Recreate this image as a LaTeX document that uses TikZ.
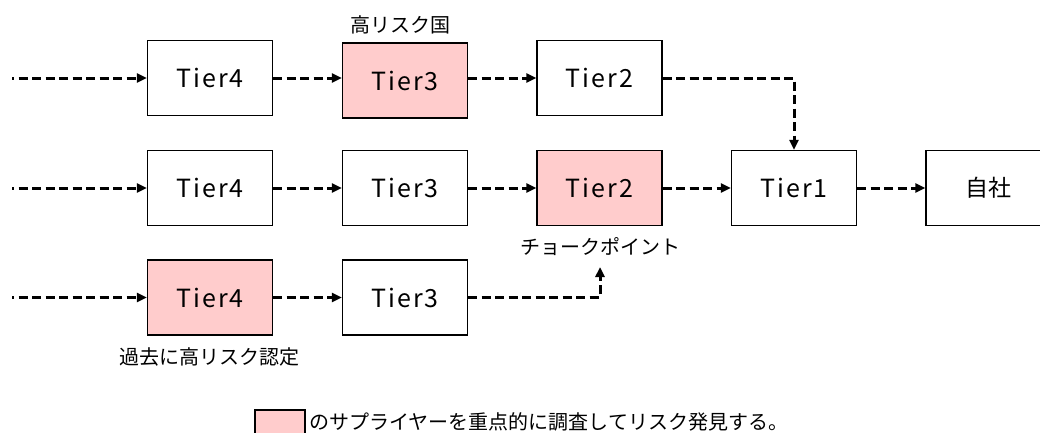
\documentclass[tikz,border=0pt]{standalone}
\usepackage{fontspec}
\setmainfont{Noto Sans CJK JP}
\newfontfamily\tierfont[LetterSpace=8]{Noto Sans CJK JP}
\usetikzlibrary{arrows.meta}
\definecolor{riskpink}{HTML}{FFCCCC}
\tikzset{
  tierbox/.style={draw=black, line width=1.3pt, fill=white, minimum width=125pt, minimum height=75pt, inner sep=0pt,
    font=\tierfont\fontsize{25}{25}\selectfont},
  riskbox/.style={tierbox, fill=riskpink},
  flow/.style={line width=3pt, dash pattern=on 9pt off 4.5pt, -{Triangle[length=10pt,width=9pt]}},
  jlabel/.style={font=\fontsize{20}{20}\selectfont, inner sep=0pt}
}
\begin{document}
\begin{tikzpicture}[x=1pt,y=-1pt]
\useasboundingbox (0,0) rectangle (1040,432);
% row 1
\node[tierbox] (A4) at (210,78) {Tier4};
\node[riskbox] (A3) at (405,80.5) {Tier3};
\node[tierbox] (A2) at (599.5,78) {Tier2};
% row 2
\node[tierbox] (B4) at (210,188) {Tier4};
\node[tierbox] (B3) at (405,188) {Tier3};
\node[riskbox] (B2) at (599.5,188) {Tier2};
\node[tierbox] (B1) at (794,188) {Tier1};
\node[tierbox, font=\fontsize{23}{23}\selectfont] (S) at (988.5,188) {自社};
% row 3
\node[riskbox] (C4) at (210,297.5) {Tier4};
\node[tierbox] (C3) at (405,297.5) {Tier3};
% labels
\node[jlabel] (hr) at (400,25) {高リスク国};
\node[jlabel] (cp) at (600,247) {チョークポイント};
\node[jlabel] (past) at (209,357) {過去に高リスク認定};
% incoming
\coordinate (in1) at (12,78);
\coordinate (in2) at (12,188);
\coordinate (in3) at (12,297.5);
\coordinate (cpin) at (600,267);
\draw[flow, dash phase=7pt] (in1) -- (A4.west);
\draw[flow, dash phase=7pt] (in2) -- (B4.west);
\draw[flow, dash phase=7pt] (in3) -- (C4.west);
% row 1 flows
\draw[flow] (A4.east) -- (A4.east -| A3.west);
\draw[flow] (A4.east -| A3.east) -- (A2.west);
\draw[flow] (A2.east) -| (B1.north);
% row 2 flows
\draw[flow] (B4.east) -- (B3.west);
\draw[flow] (B3.east) -- (B2.west);
\draw[flow] (B2.east) -- (B1.west);
\draw[flow] (B1.east) -- (S.west);
% row 3 flows
\draw[flow] (C4.east) -- (C3.west);
\draw[flow] (C3.east) -| (cpin);
% legend
\draw[line width=1.3pt, fill=riskpink] (255,410) rectangle (305,438);
\node[jlabel, anchor=west] (leg) at (309,422) {のサプライヤーを重点的に調査してリスク発見する。};
\end{tikzpicture}
\end{document}
